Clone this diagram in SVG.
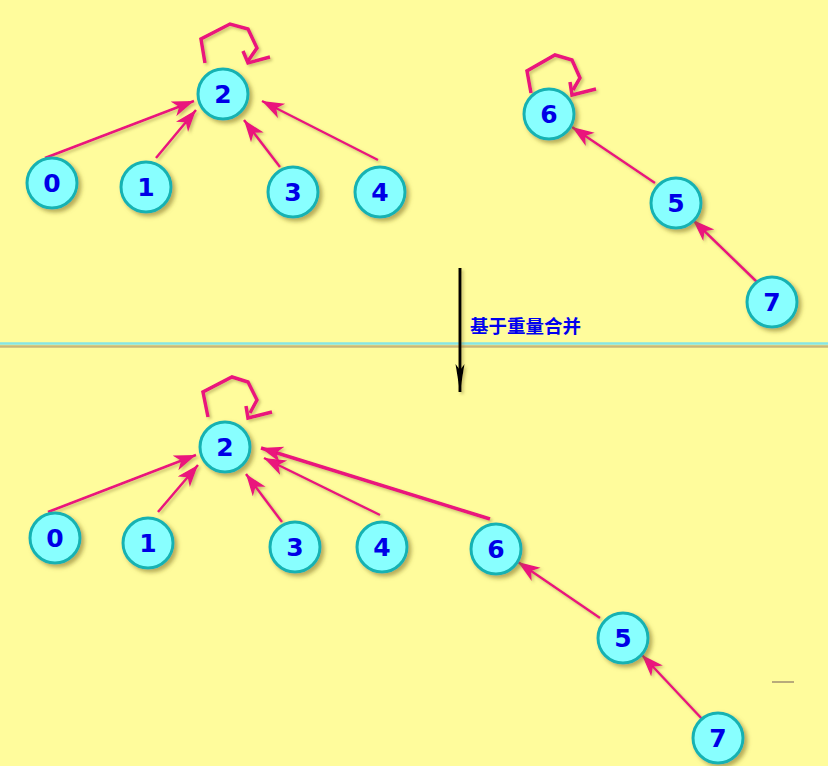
<svg xmlns="http://www.w3.org/2000/svg" width="828" height="766" viewBox="0 0 828 766">
<defs>
<filter id="sh" x="-30%" y="-30%" width="170%" height="170%">
<feDropShadow dx="3" dy="3" stdDeviation="2" flood-color="#7a6a20" flood-opacity="0.55"/>
</filter>
<filter id="lsh" x="-10%" y="-10%" width="130%" height="130%">
<feDropShadow dx="2" dy="2" stdDeviation="1.5" flood-color="#8a7a30" flood-opacity="0.45"/>
</filter>
<marker id="ah" markerUnits="userSpaceOnUse" markerWidth="24" markerHeight="18" refX="22" refY="8" orient="auto">
<path d="M0,0 L22,8 L0,16 L6,8 Z" fill="#ea127c"/>
</marker>
<marker id="bk" markerUnits="userSpaceOnUse" markerWidth="12" markerHeight="30" refX="5" refY="28" orient="0">
<path d="M0.5,0 L5,28 L9.5,0 L5,6 Z" fill="#000"/>
</marker>
</defs>
<style>
.node circle{fill:#88ffff;stroke:#14b2b2;stroke-width:3;filter:url(#sh)}
.node text{font-family:"DejaVu Sans",Verdana,sans-serif;font-weight:bold;font-size:25px;fill:#0000e6;text-anchor:middle}
.e{stroke:#ea127c;stroke-width:2.5;fill:none;marker-end:url(#ah)}
.loop{stroke:#ea127c;stroke-width:3.5;fill:none;stroke-linejoin:miter}
</style>
<rect width="828" height="766" fill="#fffc9c"/>
<line x1="0" y1="346.5" x2="828" y2="346.5" stroke="#c8b87a" stroke-width="2.5"/>
<line x1="0" y1="343.5" x2="828" y2="343.5" stroke="#86e6e6" stroke-width="2.5"/>
<line x1="772" y1="682" x2="794" y2="682" stroke="#a09070" stroke-width="1.5"/>

<g id="connectors" filter="url(#lsh)">
<line class="e" x1="45" y1="158" x2="194" y2="101"/>
<line class="e" x1="156" y1="158" x2="196" y2="110"/>
<line class="e" x1="280" y1="167" x2="244" y2="120"/>
<line class="e" x1="378" y1="160" x2="262" y2="101"/>
<line class="e" x1="655" y1="183" x2="572" y2="127"/>
<line class="e" x1="757" y1="282" x2="693" y2="220"/>
<polyline class="loop" points="205,63 201,39 230,24 248,29 257,48 248,61"/>
<polyline class="loop" points="243,51 248,63 270,57"/>
<polyline class="loop" points="531,93 527,71 555,55 572,60 580,78 573,90"/>
<polyline class="loop" points="570,82 572,95 596,89"/>

<line class="e" x1="48" y1="512" x2="196" y2="455"/>
<line class="e" x1="158" y1="512" x2="198" y2="465"/>
<line class="e" x1="282" y1="522" x2="246" y2="474"/>
<line class="e" x1="380" y1="515" x2="264" y2="458"/>
<line class="e" x1="490" y1="519" x2="261" y2="448" style="stroke-width:3.5"/>
<line class="e" x1="600" y1="618" x2="518" y2="562"/>
<line class="e" x1="703" y1="720" x2="642" y2="655"/>
<polyline class="loop" points="208,417 203,392 232,377 248,382 257,400 250,413"/>
<polyline class="loop" points="246,406 248,418 272,412"/>
<line x1="460" y1="268" x2="460" y2="392" stroke="#000" stroke-width="3" marker-end="url(#bk)"/>
</g>

<text x="470" y="333" font-family="'Noto Sans CJK SC',sans-serif" font-weight="bold" font-size="18.5" fill="#0000ee">基于重量合并</text>

<g id="t2" class="node"><circle cx="223" cy="94" r="25"/><text x="223" y="103">2</text></g>
<g id="t0" class="node"><circle cx="52" cy="183" r="25"/><text x="52" y="192">0</text></g>
<g id="t1" class="node"><circle cx="146" cy="187" r="25"/><text x="146" y="196">1</text></g>
<g id="t3" class="node"><circle cx="293" cy="192" r="25"/><text x="293" y="201">3</text></g>
<g id="t4" class="node"><circle cx="380" cy="192" r="25"/><text x="380" y="201">4</text></g>
<g id="t6" class="node"><circle cx="549" cy="114" r="25"/><text x="549" y="123">6</text></g>
<g id="t5" class="node"><circle cx="676" cy="203" r="25"/><text x="676" y="212">5</text></g>
<g id="t7" class="node"><circle cx="772" cy="302" r="25"/><text x="772" y="311">7</text></g>

<g id="b2" class="node"><circle cx="225" cy="447" r="25"/><text x="225" y="456">2</text></g>
<g id="b0" class="node"><circle cx="55" cy="538" r="25"/><text x="55" y="547">0</text></g>
<g id="b1" class="node"><circle cx="148" cy="543" r="25"/><text x="148" y="552">1</text></g>
<g id="b3" class="node"><circle cx="295" cy="547" r="25"/><text x="295" y="556">3</text></g>
<g id="b4" class="node"><circle cx="382" cy="547" r="25"/><text x="382" y="556">4</text></g>
<g id="b6" class="node"><circle cx="496" cy="549" r="25"/><text x="496" y="558">6</text></g>
<g id="b5" class="node"><circle cx="623" cy="638" r="25"/><text x="623" y="647">5</text></g>
<g id="b7" class="node"><circle cx="718" cy="738" r="25"/><text x="718" y="747">7</text></g>
</svg>
